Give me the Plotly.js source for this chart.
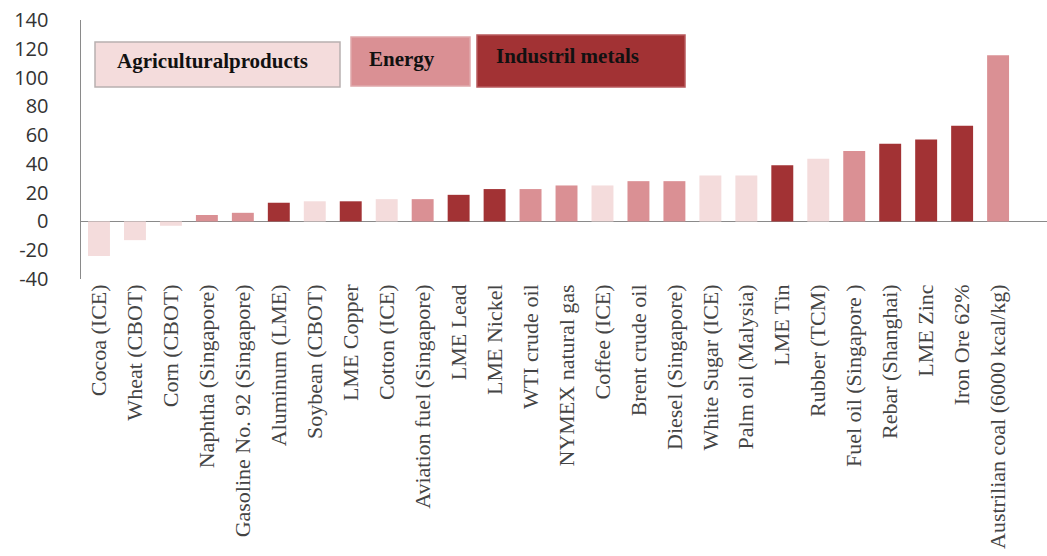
<!DOCTYPE html>
<html>
<head>
<meta charset="utf-8">
<script src="https://cdn.plot.ly/plotly-3.0.1.min.js"></script>
<style>html,body{margin:0;padding:0;background:#fff;}#chart{width:1047px;height:556px;}</style>
</head>
<body>
<div id="chart"></div>
<script>
const categories = ["Cocoa (ICE)","Wheat (CBOT)","Corn (CBOT)","Naphtha (Singapore)","Gasoline No. 92 (Singapore)","Aluminum (LME)","Soybean (CBOT)","LME Copper","Cotton (ICE)","Aviation fuel (Singapore)","LME Lead","LME Nickel","WTI crude oil","NYMEX natural gas","Coffee (ICE)","Brent crude oil","Diesel (Singapore)","White Sugar (ICE)","Palm oil (Malysia)","LME Tin","Rubber (TCM)","Fuel oil (Singapore )","Rebar (Shanghai)","LME Zinc","Iron Ore 62%","Austrilian coal (6000 kcal/kg)"];
const values = [-24,-13,-3,4.5,6,13,14,14,15.5,15.5,18.5,22.5,22.5,25,25,28,28,32,32,39,43.5,49,54,57,66.5,115.5];
const groups = ["agri","agri","agri","energy","energy","metal","agri","metal","agri","energy","metal","metal","energy","energy","agri","energy","energy","agri","agri","metal","agri","energy","metal","metal","metal","energy"];
const groupNames = {agri:"Agriculturalproducts", energy:"Energy", metal:"Industril metals"};
const groupColors = {agri:"#f4dcdc", energy:"#da9094", metal:"#a23234"};
const yTicks = [-40,-20,0,20,40,60,80,100,120,140];

const trace = {
  type: "bar",
  x: categories,
  y: values,
  marker: {color: groups.map(g => groupColors[g])},
  hoverinfo: "x+y"
};

// legend boxes (paper coords)
const W = 1047, H = 556, L = 81, T = 20, R = 0, B = 277;
const pw = W - L - R, ph = H - T - B;
function px(x){ return (x - L) / pw; }
function py(y){ return 1 - (y - T) / ph; }
const boxes = [
  {g:"agri", x0:95, x1:340, y0:42, y1:87, tx:115, ty:61, border:"#b8b0b0"},
  {g:"energy", x0:351, x1:470, y0:37, y1:86, tx:367, ty:59, border:"#e0a8aa"},
  {g:"metal", x0:477, x1:685, y0:35, y1:87, tx:494, ty:56, border:"#b85a5c"}
];
const shapes = boxes.map(b => ({
  type:"rect", xref:"paper", yref:"paper",
  x0:px(b.x0), x1:px(b.x1), y0:py(b.y1), y1:py(b.y0),
  fillcolor: groupColors[b.g], line:{color:b.border, width:1.5}, layer:"above"
}));
const annotations = boxes.map(b => ({
  xref:"paper", yref:"paper", x:px(b.tx), y:py(b.ty),
  xanchor:"left", yanchor:"middle", showarrow:false,
  text:"<b>"+groupNames[b.g]+"</b>",
  font:{family:"Liberation Serif, serif", size:21, color:"#111"}
}));

const layout = {
  width: W, height: H,
  margin: {l:L, r:R, t:T, b:B, pad:0},
  paper_bgcolor:"#fff", plot_bgcolor:"#fff",
  showlegend:false,
  bargap: 0.39,
  xaxis: {
    type:"category",
    categoryorder:"array", categoryarray: categories,
    range:[-0.5, 26.36],
    tickangle:-90,
    ticks:"", showgrid:false, showline:false, zeroline:false,
    tickfont:{family:"Liberation Serif, serif", size:22, color:"#444"},
    automargin:false
  },
  yaxis: {
    range:[-40,140], tickvals:yTicks, ticktext:yTicks.map(String),
    showgrid:false, showline:true, linecolor:"#8a8a8a", linewidth:1.5,
    zeroline:true, zerolinecolor:"#8a8a8a", zerolinewidth:1.5,
    ticks:"", ticklen:0, ticklabelstandoff:27,
    tickfont:{family:"Open Sans, sans-serif", size:20, color:"#333"},
    automargin:false
  },
  shapes: shapes,
  annotations: annotations
};

Plotly.newPlot("chart", [trace], layout, {displayModeBar:false, staticPlot:true});
</script>
</body>
</html>
